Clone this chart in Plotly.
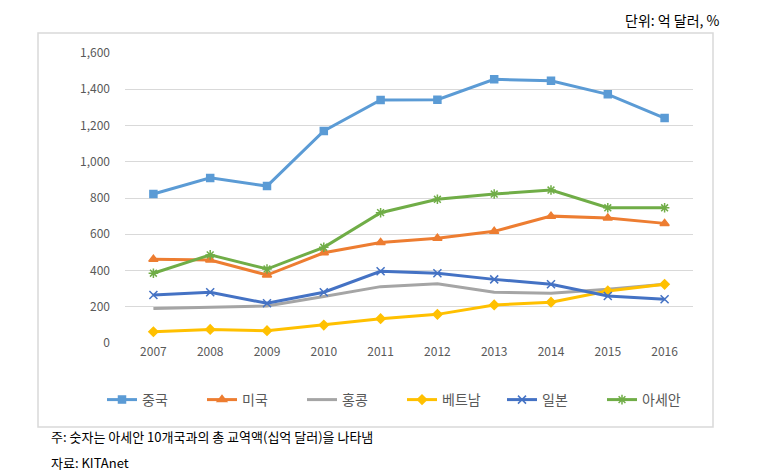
import plotly.graph_objects as go

years = ["2007", "2008", "2009", "2010", "2011", "2012", "2013", "2014", "2015", "2016"]
china = [822, 911, 866, 1170, 1341, 1342, 1455, 1447, 1372, 1241]
usa = [462, 458, 375, 498, 555, 578, 616, 700, 690, 660]
hongkong = [191, 198, 204, 256, 311, 327, 280, 274, 296, 324]
vietnam = [62, 75, 68, 99, 134, 158, 210, 225, 287, 324]
japan = [265, 280, 219, 280, 396, 385, 351, 324, 259, 241]
asean = [385, 486, 408, 528, 719, 793, 822, 844, 746, 746]

series = [
    ("중국", china, "#5B9BD5", "square", 7),
    ("미국", usa, "#ED7D31", "triangle-up", 8),
    ("홍콩", hongkong, "#A5A5A5", None, 0),
    ("베트남", vietnam, "#FFC000", "diamond", 7),
    ("일본", japan, "#4472C4", "x-thin", 8),
    ("아세안", asean, "#70AD47", "asterisk", 8),
]

font_kr = "Noto Sans CJK KR"

fig = go.Figure()
for name, vals, color, sym, size in series:
    if sym is None:
        fig.add_trace(go.Scatter(x=years, y=vals, name=name, mode="lines",
                                 line=dict(color=color, width=3)))
    else:
        fig.add_trace(go.Scatter(
            x=years, y=vals, name=name, mode="lines+markers",
            line=dict(color=color, width=3),
            marker=dict(symbol=sym, size=size, color=color,
                        line=dict(color=color, width=1.5))))

L, R, T, B = 125, 85, 53, 133
W, H = 778, 476
pw, ph = W - L - R, H - T - B

def px_x(p):
    return (p - L) / pw

def px_y(p):
    return (H - B - p) / ph

fig.update_layout(
    width=W, height=H,
    margin=dict(l=L, r=R, t=T, b=B),
    paper_bgcolor="white", plot_bgcolor="white",
    font=dict(family=font_kr, size=12, color="#595959"),
    showlegend=True,
    legend=dict(orientation="h", x=px_x(102), y=px_y(400), xanchor="left", yanchor="middle",
                font=dict(family=font_kr, size=14, color="#595959"),
                itemwidth=30, entrywidth=55, entrywidthmode="pixels",
                tracegroupgap=0, bgcolor="rgba(0,0,0,0)"),
    xaxis=dict(type="category", showgrid=False, showline=False, zeroline=False,
               ticks="", tickfont=dict(size=12, color="#595959"), range=[-0.5, 9.5]),
    yaxis=dict(range=[0, 1600], dtick=200, tickformat=",", showgrid=True,
               gridcolor="#D9D9D9", gridwidth=1, zeroline=False, showline=False,
               ticks="", ticklabelstandoff=14,
               tickfont=dict(size=12, color="#595959")),
    shapes=[dict(type="rect", xref="paper", yref="paper",
                 x0=px_x(38), x1=px_x(713), y0=px_y(427), y1=px_y(33),
                 line=dict(color="#D9D9D9", width=1.5), fillcolor="rgba(0,0,0,0)",
                 layer="below")],
    annotations=[
        dict(text="단위: 억 달러, %", xref="paper", yref="paper", x=px_x(722), y=px_y(20),
             xanchor="right", yanchor="middle", showarrow=False,
             font=dict(family=font_kr, size=14, color="#000000")),
        dict(text="주: 숫자는 아세안 10개국과의 총 교역액(십억 달러)을 나타냄", xref="paper", yref="paper",
             x=px_x(49), y=px_y(436), xanchor="left", yanchor="middle", showarrow=False,
             font=dict(family=font_kr, size=13, color="#000000")),
        dict(text="자료: KITAnet", xref="paper", yref="paper",
             x=px_x(49), y=px_y(462), xanchor="left", yanchor="middle", showarrow=False,
             font=dict(family=font_kr, size=13, color="#000000")),
    ],
)

fig.write_html("out.html")
